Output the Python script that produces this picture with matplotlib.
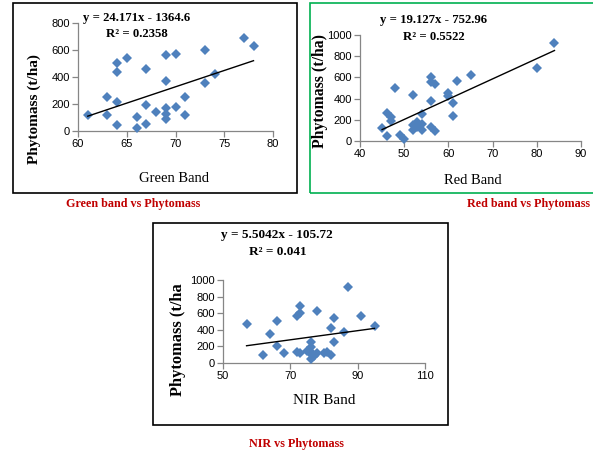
import numpy as np
import matplotlib
matplotlib.use("Agg")
import matplotlib.pyplot as plt
import matplotlib.patches as mpatches

# band values and phytomass (t/ha) for each scatter
green_x = [61, 63, 63, 64, 64, 64, 64, 65, 66, 66, 67, 67, 67, 68, 69, 69, 69, 69, 69,
           70, 70, 71, 71, 73, 73, 74, 77, 78]
green_y = [117, 253, 122, 505, 438, 214, 45, 539, 104, 25, 462, 190, 55, 140, 566, 373, 171,
           129, 92, 569, 179, 253, 117, 601, 353, 420, 688, 626]

red_x = [45, 46, 46, 47, 47, 48, 49, 50, 52, 52, 52, 53, 53, 54, 54, 54, 56, 56, 56, 56,
         57, 57, 60, 60, 61, 61, 62, 65, 80, 84]
red_y = [123, 260, 44, 225, 190, 500, 60, 22, 435, 100, 150, 175, 135, 255, 160, 100,
         605, 560, 375, 130, 535, 95, 450, 420, 355, 235, 570, 620, 690, 920]

nir_x = [57, 62, 64, 66, 66, 68, 72, 72, 73, 73, 73, 75, 76, 76, 76, 76, 76, 77, 78, 78,
         80, 81, 82, 82, 83, 83, 86, 87, 91, 95]
nir_y = [465, 100, 355, 505, 210, 115, 565, 130, 690, 600, 120, 150, 250, 195, 130, 110,
         50, 80, 625, 115, 120, 130, 95, 420, 545, 250, 375, 920, 565, 440]

# trend line coefficients (slope, intercept, R^2)
green_fit = (24.171, -1364.6, "0.2358")
red_fit = (19.127, -752.96, "0.5522")
nir_fit = (5.5042, -105.72, "0.041")

W, H = 593, 453
SERIF = ["Liberation Serif", "DejaVu Serif"]
SANS = ["Liberation Sans", "DejaVu Sans"]
DOT = "#4F81BD"
CAPTION = "#C00000"

fig = plt.figure(figsize=(W / 100, H / 100), dpi=100)


def fx(x):
    return x / W


def fy(y):
    return 1 - y / H


def box(x0, y0, x1, y1, color):
    fig.patches.append(mpatches.Rectangle((fx(x0), fy(y1)), fx(x1 - x0), (y1 - y0) / H,
                                          transform=fig.transFigure, fill=False,
                                          edgecolor=color, linewidth=1.2))


def scatter_panel(rect, xs, ys, fit, xlim, xticks, ylim, yticks):
    left, top, right, bottom = rect
    ax = fig.add_axes([fx(left), fy(bottom), fx(right - left), (bottom - top) / H])
    ax.plot(xs, ys, linestyle="none", marker="D", markersize=5, color=DOT,
            markeredgewidth=0, clip_on=False, zorder=3)
    slope, icept, r2 = fit
    xl = np.array([min(xs), max(xs)])
    ax.plot(xl, slope * xl + icept, color="black", linewidth=1.0, zorder=4)
    ax.set_xlim(*xlim)
    ax.set_ylim(*ylim)
    ax.set_xticks(xticks)
    ax.set_yticks(yticks)
    for s in ("top", "right"):
        ax.spines[s].set_visible(False)
    for s in ("left", "bottom"):
        ax.spines[s].set_color("#868686")
        ax.spines[s].set_linewidth(0.9)
    ax.tick_params(direction="out", length=4, width=0.9, color="#868686",
                   labelsize=8, pad=2)
    for lab in ax.get_xticklabels() + ax.get_yticklabels():
        lab.set_family(SANS)
    ax.patch.set_alpha(0)
    return ax


# Green band
box(13, 3, 297, 193, "black")
scatter_panel((78, 23, 273, 131), green_x, green_y, green_fit,
              (60, 80), [60, 65, 70, 75, 80], (0, 800), [0, 200, 400, 600, 800])
fig.text(fx(137), fy(18), "y = 24.171x - 1364.6", ha="center", va="center",
         family=SERIF, weight="bold", fontsize=9.2)
fig.text(fx(137), fy(34), "R² = 0.2358", ha="center", va="center",
         family=SERIF, weight="bold", fontsize=9.2)
fig.text(fx(34), fy(109), "Phytomass (t/ha)", rotation=90, ha="center", va="center",
         family=SERIF, weight="bold", fontsize=11)
fig.text(fx(174), fy(178), "Green Band", ha="center", va="center",
         family=SERIF, fontsize=10.5)
fig.text(fx(133), fy(204), "Green band vs Phytomass", ha="center", va="center",
         family=SERIF, weight="bold", fontsize=8.7, color=CAPTION)

# Red band
box(310, 3, 597, 193, "#00B050")
scatter_panel((360, 35, 581, 141), red_x, red_y, red_fit,
              (40, 90), [40, 50, 60, 70, 80, 90], (0, 1000), [0, 200, 400, 600, 800, 1000])
fig.text(fx(434), fy(20), "y = 19.127x - 752.96", ha="center", va="center",
         family=SERIF, weight="bold", fontsize=9.2)
fig.text(fx(434), fy(37), "R² = 0.5522", ha="center", va="center",
         family=SERIF, weight="bold", fontsize=9.2)
fig.text(fx(320), fy(91), "Phytomass (t/ha)", rotation=90, ha="center", va="center",
         family=SERIF, weight="bold", fontsize=11.3)
fig.text(fx(473), fy(180), "Red Band", ha="center", va="center",
         family=SERIF, fontsize=10.5)
fig.text(fx(590), fy(204), "Red band vs Phytomass", ha="right", va="center",
         family=SERIF, weight="bold", fontsize=8.7, color=CAPTION)

# NIR band
box(153, 223, 448, 425, "black")
scatter_panel((223, 280, 425, 363), nir_x, nir_y, nir_fit,
              (50, 110), [50, 70, 90, 110], (0, 1000), [0, 200, 400, 600, 800, 1000])
fig.text(fx(277), fy(235), "y = 5.5042x - 105.72", ha="center", va="center",
         family=SERIF, weight="bold", fontsize=9.5)
fig.text(fx(278), fy(252), "R² = 0.041", ha="center", va="center",
         family=SERIF, weight="bold", fontsize=9.5)
fig.text(fx(178), fy(340), "Phytomass (t/ha", rotation=90, ha="center", va="center",
         family=SERIF, weight="bold", fontsize=11.8)
fig.text(fx(324), fy(400), "NIR Band", ha="center", va="center",
         family=SERIF, fontsize=11)
fig.text(fx(296), fy(444), "NIR vs Phytomass", ha="center", va="center",
         family=SERIF, weight="bold", fontsize=8.7, color=CAPTION)

fig.savefig("out.png", dpi=100)
